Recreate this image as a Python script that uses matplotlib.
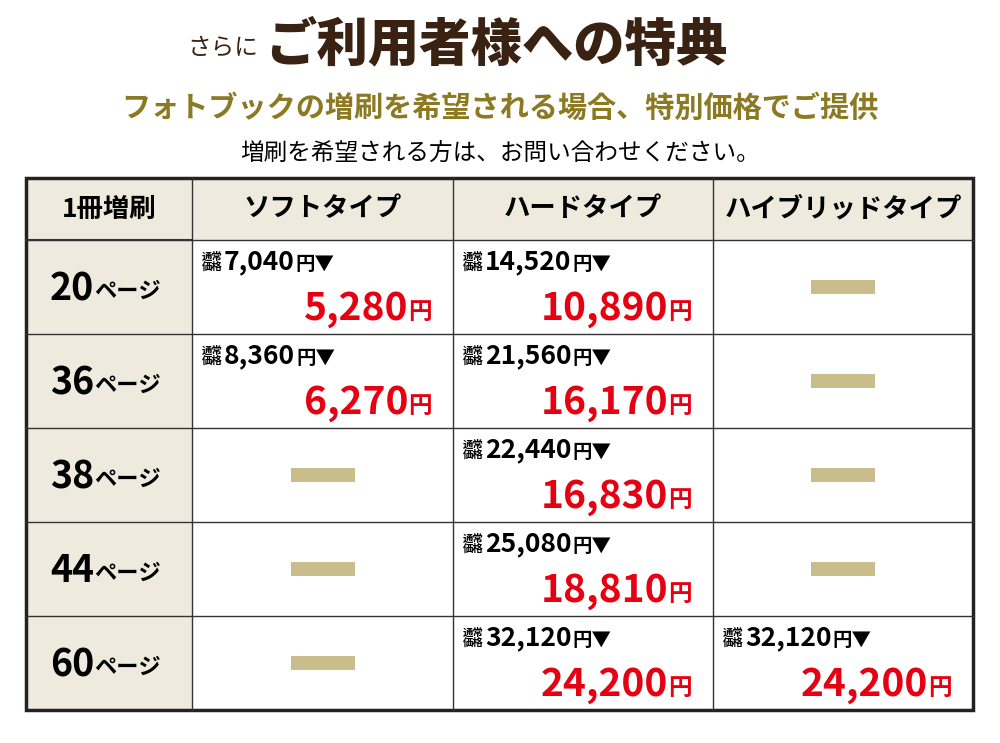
import matplotlib
matplotlib.use("Agg")
import matplotlib.pyplot as plt
from matplotlib.patches import Rectangle

FONT = "Noto Sans CJK JP"
plt.rcParams["font.family"] = FONT

title_small = "さらに"
title_main = "ご利用者様への特典"
subtitle = "フォトブックの増刷を希望される場合、特別価格でご提供"
note = "増刷を希望される方は、お問い合わせください。"
corner = "1冊増刷"
types = ["ソフトタイプ", "ハードタイプ", "ハイブリッドタイプ"]
pages = ["20", "36", "38", "44", "60"]
regular = {
    "ソフトタイプ": [7040, 8360, None, None, None],
    "ハードタイプ": [14520, 21560, 22440, 25080, 32120],
    "ハイブリッドタイプ": [None, None, None, None, 32120],
}
special = {
    "ソフトタイプ": [5280, 6270, None, None, None],
    "ハードタイプ": [10890, 16170, 16830, 18810, 24200],
    "ハイブリッドタイプ": [None, None, None, None, 24200],
}

BEIGE = "#eeeadd"
DASH = "#c9bd8c"
RED = "#e50012"
BROWN = "#3a2213"
OLIVE = "#8c7a22"

fig = plt.figure(figsize=(10, 7.43), dpi=100)
ax = fig.add_axes([0, 0, 1, 1])
ax.set_xlim(0, 1000)
ax.set_ylim(743, 0)
ax.axis("off")
renderer = fig.canvas.get_renderer()

def right_edge(t):
    bb = t.get_window_extent(renderer=renderer)
    return bb.x1  # display px == data x here

ax.text(258, 48, title_small, fontsize=17, color=BROWN, ha="right", va="center")
ax.text(265, 45, title_main, fontsize=37, fontweight="heavy", color=BROWN, ha="left", va="center")
ax.text(500, 108, subtitle, fontsize=21, fontweight="bold", color=OLIVE, ha="center", va="center")
ax.text(500, 153, note, fontsize=17, color="black", ha="center", va="center")

xs = [26, 192, 453, 713, 973]
y0, hh, rh = 178, 62, 94
ys = [y0, y0 + hh] + [y0 + hh + rh * (i + 1) for i in range(len(pages))]

ax.add_patch(Rectangle((xs[0], y0), xs[-1] - xs[0], hh, fc=BEIGE, ec="none"))
ax.add_patch(Rectangle((xs[0], y0), xs[1] - xs[0], ys[-1] - y0, fc=BEIGE, ec="none"))
for x in xs[1:-1]:
    ax.plot([x, x], [y0, ys[-1]], color="#333333", lw=1)
for y in ys[1:-1]:
    ax.plot([xs[0], xs[-1]], [y, y], color="#333333", lw=1)
ax.plot([xs[0], xs[1]], [ys[1], ys[1]], color="#333333", lw=1.5)
ax.add_patch(Rectangle((xs[0], y0), xs[-1] - xs[0], ys[-1] - y0, fc="none", ec="#222222", lw=2.5))

ax.text((xs[0] + xs[1]) / 2, y0 + hh / 2, corner, fontsize=19, fontweight="bold", ha="center", va="center")
for j, t in enumerate(types):
    ax.text((xs[j + 1] + xs[j + 2]) / 2, y0 + hh / 2, t, fontsize=19, fontweight="bold", ha="center", va="center")

for i, p in enumerate(pages):
    top = ys[i + 1]
    cy = top + rh / 2
    ax.text(94, cy + 2, p, fontsize=27, fontweight="bold", ha="right", va="center")
    ax.text(94, cy + 4, "ページ", fontsize=16, fontweight="bold", ha="left", va="center")
    for j, t in enumerate(types):
        xl, xr = xs[j + 1], xs[j + 2]
        r = regular[t][i]
        s = special[t][i]
        if r is None:
            ax.add_patch(Rectangle(((xl + xr) / 2 - 32, cy - 7), 64, 14, fc=DASH, ec="none"))
            continue
        ax.text(xl + 10, top + 22, "通常\n価格", fontsize=7.5, fontweight="bold", ha="left", va="center", linespacing=1.0)
        tr = ax.text(xl + 32, top + 22, f"{r:,}", fontsize=19, fontweight="bold", ha="left", va="center")
        ax.text(right_edge(tr) + 1, top + 24, "円▼", fontsize=14, fontweight="bold", ha="left", va="center")
        ax.text(xr - 45, top + 68, f"{s:,}", fontsize=28, fontweight="bold", color=RED, ha="right", va="center")
        ax.text(xr - 45, top + 72, "円", fontsize=17, fontweight="bold", color=RED, ha="left", va="center")

fig.savefig("out.png", dpi=100)
